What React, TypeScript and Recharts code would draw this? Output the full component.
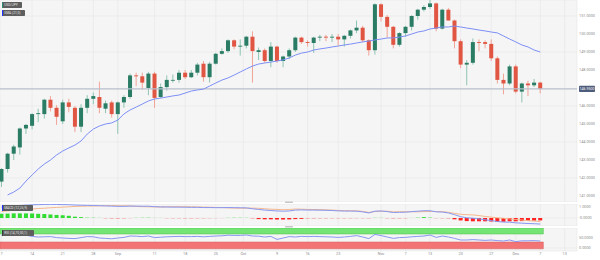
import React from "react";
import {
  Bar,
  CartesianGrid,
  Cell,
  ComposedChart,
  Line,
  ReferenceArea,
  ReferenceLine,
  XAxis,
  YAxis
} from "recharts";

// trading days, Aug 7 .. Dec 7
const days = [
  "08-07", "08-08", "08-09", "08-10", "08-11", "08-14", "08-15", "08-16", "08-17", "08-18",
  "08-21", "08-22", "08-23", "08-24", "08-25", "08-28", "08-29", "08-30", "08-31", "09-01",
  "09-04", "09-05", "09-06", "09-07", "09-08", "09-11", "09-12", "09-13", "09-14", "09-15",
  "09-18", "09-19", "09-20", "09-21", "09-22", "09-25", "09-26", "09-27", "09-28", "09-29",
  "10-02", "10-03", "10-04", "10-05", "10-06", "10-09", "10-10", "10-11", "10-12", "10-13",
  "10-16", "10-17", "10-18", "10-19", "10-20", "10-23", "10-24", "10-25", "10-26", "10-27",
  "10-30", "10-31", "11-01", "11-02", "11-03", "11-06", "11-07", "11-08", "11-09", "11-10",
  "11-13", "11-14", "11-15", "11-16", "11-17", "11-20", "11-21", "11-22", "11-23", "11-24",
  "11-27", "11-28", "11-29", "11-30", "12-01", "12-04", "12-05", "12-06", "12-07"
];

const open = [
  141.8, 142.5, 143.35, 143.7, 144.75, 144.9, 145.55, 145.55, 146.35, 145.9,
  145.15, 146.2, 145.9, 144.85, 145.9, 146.4, 146.5, 145.85, 146.2, 145.55,
  146.2, 146.5, 147.7, 147.65, 147.0, 147.8, 146.5, 147.05, 147.45, 147.45,
  147.85, 147.6, 147.85, 148.35, 147.6, 148.35, 148.9, 149.05, 149.65, 149.3,
  149.35, 149.85, 149.0, 149.1, 148.5, 149.3, 148.5, 148.75, 149.1, 149.8,
  149.55, 149.5, 149.8, 149.85, 149.8, 149.85, 149.7, 149.9, 150.2, 150.35,
  149.65, 149.1, 151.65, 150.95, 150.4, 149.4, 150.05, 150.4, 151.0, 151.35,
  151.5, 151.7, 150.3, 151.35, 150.75, 149.6, 148.3, 148.4, 149.55, 149.55,
  149.45, 148.65, 147.45, 147.25, 148.2, 146.8, 147.25, 147.15, 147.3
];
const high = [
  142.55, 143.4, 143.85, 144.8, 145.0, 145.6, 145.85, 146.4, 146.55, 146.05,
  146.35, 146.4, 146.0, 146.1, 146.6, 146.75, 147.35, 146.3, 146.3, 146.25,
  146.6, 147.8, 147.85, 147.85, 147.9, 147.9, 147.25, 147.7, 147.75, 148.0,
  148.0, 148.0, 148.4, 148.5, 148.45, 148.95, 149.2, 149.7, 149.7, 149.7,
  149.9, 150.15, 149.25, 149.2, 149.55, 149.35, 148.8, 149.2, 149.85, 149.85,
  149.65, 149.85, 149.95, 149.95, 150.0, 150.0, 149.95, 150.25, 150.75, 150.45,
  149.7, 151.7, 151.7, 151.05, 150.45, 150.1, 150.45, 151.05, 151.4, 151.6,
  151.9, 151.75, 151.4, 151.45, 150.8, 149.7, 148.55, 149.75, 149.7, 149.65,
  149.7, 148.75, 147.8, 148.3, 148.3, 147.3, 147.4, 147.5, 147.35
];
const low = [
  141.5, 142.3, 143.0, 143.3, 144.45, 144.7, 145.1, 145.3, 145.7, 144.95,
  145.0, 145.65, 144.55, 144.55, 145.6, 146.1, 145.6, 145.6, 145.35, 144.45,
  145.9, 146.4, 147.1, 146.9, 146.6, 145.9, 146.45, 146.85, 147.3, 147.3,
  147.5, 147.55, 147.7, 147.35, 147.3, 148.3, 148.85, 148.95, 149.15, 148.8,
  149.2, 147.3, 148.55, 148.4, 148.15, 148.4, 148.15, 148.6, 149.0, 149.45,
  149.3, 148.95, 149.6, 149.6, 149.55, 149.35, 149.3, 149.75, 150.05, 149.55,
  148.8, 148.85, 150.7, 149.8, 149.2, 149.3, 149.85, 150.2, 150.8, 151.25,
  151.4, 150.15, 150.25, 150.75, 149.2, 148.1, 147.15, 148.3, 149.05, 149.2,
  148.5, 147.25, 146.65, 147.15, 146.7, 146.2, 146.55, 147.05, 146.7
];
const close = [
  142.5, 143.35, 143.75, 144.75, 144.95, 145.55, 145.6, 146.35, 145.9, 145.4,
  146.2, 145.95, 144.85, 145.9, 146.4, 146.55, 145.9, 146.15, 145.55, 146.2,
  146.5, 147.7, 147.65, 147.3, 147.8, 146.45, 147.05, 147.45, 147.45, 147.85,
  147.6, 147.85, 148.3, 147.6, 148.35, 148.9, 149.05, 149.65, 149.3, 149.35,
  149.85, 149.05, 149.1, 148.5, 149.3, 148.5, 148.75, 149.1, 149.8, 149.55,
  149.5, 149.8, 149.85, 149.8, 149.85, 149.7, 149.9, 150.2, 150.35, 149.65,
  149.1, 151.65, 150.95, 150.4, 149.4, 150.05, 150.4, 151.0, 151.35, 151.5,
  151.7, 150.3, 151.35, 150.75, 149.6, 148.3, 148.4, 149.55, 149.5, 149.45,
  148.65, 147.45, 147.25, 148.2, 146.8, 147.25, 147.15, 147.3, 146.95
];
const sma = [
  null, 141.06, 141.22, 141.44, 141.83, 142.17, 142.5, 142.78, 143.0, 143.28,
  143.5, 143.67, 143.83, 144.06, 144.44, 144.72, 144.89, 145.0, 145.06, 145.22,
  145.56, 145.78, 145.94, 146.11, 146.28, 146.39, 146.44, 146.5, 146.56, 146.61,
  146.72, 146.83, 146.89, 146.94, 147.11, 147.28, 147.44, 147.56, 147.72, 147.89,
  148.06, 148.22, 148.33, 148.39, 148.44, 148.5, 148.56, 148.67, 148.83, 148.94,
  149.0, 149.11, 149.17, 149.22, 149.28, 149.33, 149.39, 149.44, 149.5, 149.56,
  149.61, 149.67, 149.72, 149.78, 149.78, 149.83, 149.89, 150.0, 150.11, 150.17,
  150.28, 150.33, 150.39, 150.39, 150.44, 150.39, 150.33, 150.28, 150.22, 150.17,
  150.11, 150.06, 149.89, 149.72, 149.56, 149.39, 149.28, 149.11, 149.0
];

const macd = [
  1.0, 1.05, 1.1, 1.14, 1.17, 1.2, 1.22, 1.23, 1.24, 1.23,
  1.22, 1.21, 1.18, 1.16, 1.15, 1.14, 1.12, 1.1, 1.08, 1.06,
  1.06, 1.08, 1.08, 1.07, 1.07, 1.03, 1.01, 1.0, 0.99, 0.99,
  0.98, 0.97, 0.97, 0.95, 0.95, 0.94, 0.94, 0.95, 0.94, 0.93,
  0.92, 0.84, 0.78, 0.72, 0.68, 0.64, 0.62, 0.64, 0.72, 0.74,
  0.72, 0.72, 0.71, 0.7, 0.68, 0.65, 0.63, 0.63, 0.62, 0.56,
  0.46, 0.62, 0.64, 0.58, 0.5, 0.52, 0.53, 0.58, 0.62, 0.66,
  0.66, 0.56, 0.54, 0.46, 0.3, 0.12, 0.02, -0.02, -0.08, -0.16,
  -0.24, -0.32, -0.37, -0.38, -0.44, -0.47, -0.5, -0.52, -0.55
];
const signal = [
  0.6, 0.65, 0.7, 0.74, 0.78, 0.82, 0.86, 0.89, 0.93, 0.96,
  0.99, 1.02, 1.05, 1.07, 1.08, 1.09, 1.1, 1.12, 1.13, 1.12,
  1.11, 1.1, 1.05, 1.03, 1.02, 1.01, 1.0, 1.02, 1.03, 1.03,
  1.03, 1.02, 1.01, 0.99, 0.98, 0.96, 0.95, 0.92, 0.9, 0.89,
  0.89, 0.9, 0.88, 0.84, 0.8, 0.78, 0.76, 0.77, 0.82, 0.8,
  0.78, 0.77, 0.76, 0.74, 0.72, 0.69, 0.67, 0.66, 0.65, 0.6,
  0.51, 0.59, 0.61, 0.62, 0.56, 0.57, 0.57, 0.57, 0.56, 0.58,
  0.59, 0.59, 0.58, 0.52, 0.42, 0.34, 0.3, 0.28, 0.22, 0.14,
  0.08, 0.02, -0.03, -0.08, -0.14, -0.19, -0.24, -0.28, -0.33
];
const hist = [
  0.38, 0.4, 0.42, 0.42, 0.42, 0.4, 0.38, 0.36, 0.32, 0.28,
  0.24, 0.2, 0.12, 0.08, 0.06, 0.05, 0.02, -0.04, -0.06, -0.07,
  -0.05, -0.02, 0.03, 0.04, 0.05, 0.02, 0.01, -0.03, -0.04, -0.04,
  -0.05, -0.05, -0.04, -0.04, -0.03, -0.02, -0.01, 0.03, 0.04, 0.04,
  0.03, -0.06, -0.1, -0.12, -0.12, -0.14, -0.14, -0.13, -0.1, -0.08,
  -0.06, -0.06, -0.05, -0.05, -0.04, -0.04, -0.04, -0.04, -0.03, -0.03,
  -0.04, 0.03, 0.03, -0.04, -0.06, -0.05, -0.04, 0.01, 0.06, 0.08,
  0.07, -0.03, -0.04, -0.06, -0.12, -0.22, -0.28, -0.3, -0.3, -0.3,
  -0.32, -0.34, -0.34, -0.3, -0.3, -0.28, -0.26, -0.24, -0.22
];
const rsi = [
  62, 64, 65, 66, 64, 58, 55, 56, 57, 52,
  50, 48, 47, 52, 57, 56, 50, 48, 46, 50,
  53, 60, 59, 57, 60, 52, 54, 56, 57, 58,
  57, 57, 58, 56, 58, 60, 61, 64, 63, 63,
  65, 60, 59, 55, 58, 43, 50, 57, 55, 58,
  57, 58, 57, 56, 55, 53, 55, 58, 62, 55,
  47, 68, 62, 55, 48, 52, 53, 56, 58, 60,
  65, 53, 60, 55, 48, 40, 40, 42, 40, 38,
  40, 37, 35, 40, 32, 36, 36, 37, 35
];

// x-axis labels, placed on the trading-day index
const tickIdx = [0, 5, 10, 15, 19, 25, 30, 35, 39.5, 45, 50, 55, 62, 66, 70, 75, 80, 84, 88, 92];
const tickLabels = ["7", "14", "21", "28", "Sep", "11", "18", "25", "Oct", "9", "16", "23", "Nov", "7", "13", "20", "27", "Dec", "7", "13"];
const priceTicks = [141, 142, 143, 144, 145, 146, 148, 149, 150, 151];

const X_DOMAIN = [-0.25, 94];
const PLOT_BG = "#f5f5f5";
const GRID = "#e6e6e6";
const axisTick = { fontSize: 3.8, fill: "#8c8c8c" };
const noMargin = { top: 0, right: 0, bottom: 0, left: 0 };

const rows = days.map((day, i) => ({
  i,
  day,
  open: open[i],
  high: high[i],
  low: low[i],
  close: close[i],
  range: [low[i], high[i]],
  sma: sma[i],
  macd: macd[i],
  signal: signal[i],
  hist: hist[i],
  rsi: rsi[i]
}));

const Candle = (props: any) => {
  const { x, y, width, height, payload } = props;
  if (payload == null || x == null) return null;
  const h = Math.abs(height);
  const top = Math.min(y, y + height);
  const span = payload.high - payload.low || 1;
  const yOf = (v: number) => top + ((payload.high - v) / span) * h;
  const up = payload.close >= payload.open;
  const bodyTop = yOf(Math.max(payload.open, payload.close));
  const bodyBot = yOf(Math.min(payload.open, payload.close));
  const cx = x + width / 2;
  return (
    <g>
      <line x1={cx} x2={cx} y1={top} y2={top + h} stroke={up ? "#8fc4b3" : "#f1a497"} strokeWidth={1} />
      <rect x={x} y={bodyTop} width={width} height={Math.max(bodyBot - bodyTop, 0.8)} fill={up ? "#2b7c64" : "#e05643"} />
    </g>
  );
};

const PriceTag = (props: any) => {
  const { viewBox, text } = props;
  if (!viewBox) return null;
  const x = viewBox.x + viewBox.width + 2;
  const y = viewBox.y;
  return (
    <g>
      <rect x={x} y={y - 3.2} width={16} height={6.4} rx={0.8} fill="#4d5c7a" />
      <text x={x + 8} y={y} dy="0.35em" textAnchor="middle" fontSize={3.6} fill="#ffffff">
        {text}
      </text>
    </g>
  );
};

const histColor = (v: number) => {
  if (v >= 0) return Math.abs(v) >= 0.08 ? "#2fdc2f" : "#98e898";
  return Math.abs(v) >= 0.08 ? "#ff2222" : "#f59c9c";
};

const Tag = ({ x, y, w, stripe, text }: { x: number; y: number; w: number; stripe: string; text: string }) => (
  <g>
    <rect x={x} y={y} width={w} height={6} rx={0.8} fill="#5e5e5e" />
    <rect x={x} y={y} width={1} height={6} fill={stripe} />
    <text x={x + 2.2} y={y + 3} dy="0.35em" fontSize={3.3} fill="#e6e6e6">
      {text}
    </text>
  </g>
);

export default function App() {
  const last = close[close.length - 1];
  return (
    <div
      style={{
        position: "absolute",
        left: 0,
        top: 0,
        width: 600,
        height: 260,
        background: "#ffffff",
        fontFamily: "Roboto, 'DejaVu Sans', sans-serif",
        overflow: "hidden"
      }}
    >
      <div style={{ position: "absolute", left: 0, top: 0 }}>
        <ComposedChart width={600} height={202} data={rows} margin={noMargin}>
          <CartesianGrid fill={PLOT_BG} stroke={GRID} strokeWidth={0.6} />
          <XAxis type="number" dataKey="i" domain={X_DOMAIN} ticks={tickIdx} hide allowDataOverflow />
          <YAxis
            orientation="right"
            width={23}
            domain={[140.6667, 151.8889]}
            ticks={priceTicks}
            allowDataOverflow
            tickFormatter={(v: number) => v.toFixed(4)}
            tick={axisTick}
            tickSize={0}
            tickMargin={2}
            axisLine={false}
            tickLine={false}
          />
          <ReferenceLine y={last} stroke="#b7bfcc" strokeWidth={1.4} label={<PriceTag text={last.toFixed(4)} />} />
          <Bar dataKey="range" barSize={4} shape={<Candle />} isAnimationActive={false} />
          <Line dataKey="sma" stroke="#7d8ff5" strokeWidth={1} dot={false} isAnimationActive={false} />
        </ComposedChart>
      </div>

      <div style={{ position: "absolute", left: 0, top: 204 }}>
        <ComposedChart width={600} height={22} data={rows} margin={noMargin}>
          <CartesianGrid fill={PLOT_BG} stroke={GRID} strokeWidth={0.6} />
          <XAxis type="number" dataKey="i" domain={X_DOMAIN} ticks={tickIdx} hide allowDataOverflow />
          <YAxis
            orientation="right"
            width={23}
            domain={[-0.727, 1.273]}
            ticks={[1, -0.00001]}
            allowDataOverflow
            tickFormatter={(v: number) => v.toFixed(4)}
            tick={axisTick}
            tickSize={0}
            tickMargin={2}
            axisLine={false}
            tickLine={false}
          />
          <Bar dataKey="hist" barSize={4} isAnimationActive={false}>
            {rows.map((r) => (
              <Cell key={r.i} fill={histColor(r.hist)} />
            ))}
          </Bar>
          <Line dataKey="signal" stroke="#f6b88e" strokeWidth={1} dot={false} isAnimationActive={false} />
          <Line dataKey="macd" stroke="#8797f2" strokeWidth={1} dot={false} isAnimationActive={false} />
        </ComposedChart>
      </div>

      <div style={{ position: "absolute", left: 0, top: 228 }}>
        <ComposedChart width={600} height={31} data={rows} margin={noMargin}>
          <CartesianGrid fill={PLOT_BG} stroke={GRID} strokeWidth={0.6} />
          <XAxis
            type="number"
            dataKey="i"
            domain={X_DOMAIN}
            ticks={tickIdx}
            allowDataOverflow
            interval={0}
            height={8}
            tickFormatter={(v: number) => tickLabels[tickIdx.indexOf(v)] ?? ""}
            tick={axisTick}
            tickSize={0}
            tickMargin={1}
            axisLine={false}
            tickLine={false}
          />
          <YAxis
            orientation="right"
            width={23}
            domain={[-15, 100]}
            ticks={[50, 0]}
            allowDataOverflow
            tickFormatter={(v: number) => v.toFixed(4)}
            tick={axisTick}
            tickSize={0}
            tickMargin={2}
            axisLine={false}
            tickLine={false}
          />
          <ReferenceArea x1={-0.25} x2={88.5} y1={70} y2={100} fill="#74e474" fillOpacity={1} stroke="#4cc24c" strokeWidth={0.5} />
          <ReferenceArea x1={-0.25} x2={88.5} y1={-4} y2={30} fill="#f27474" fillOpacity={1} stroke="#d85a5a" strokeWidth={0.5} />
          <Line dataKey="rsi" stroke="#8797f2" strokeWidth={1} dot={false} isAnimationActive={false} />
        </ComposedChart>
      </div>

      <svg width={600} height={260} style={{ position: "absolute", left: 0, top: 0, pointerEvents: "none" }}>
        <Tag x={2} y={2} w={20} stripe="#2e8b6e" text="USD/JPY" />
        <Tag x={2} y={10} w={23} stripe="#2233ff" text="SMA (21,0)" />
        <Tag x={2} y={205} w={31} stripe="#2233ff" text="MACD (12,26,9)" />
        <Tag x={2} y={230} w={32} stripe="#3a3a3a" text="RSI (14,70,30,1)" />
        <rect x={285} y={201.6} width={8} height={1.5} rx={0.6} fill="#c6c6c6" />
        <rect x={285} y={226.1} width={8} height={1.5} rx={0.6} fill="#c6c6c6" />
      </svg>
    </div>
  );
}
